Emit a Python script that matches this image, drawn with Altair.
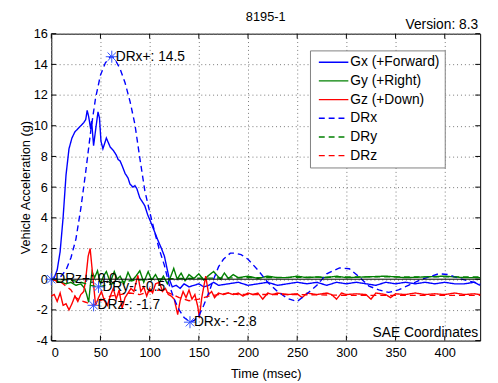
import altair as alt
import pandas as pd

# ---------------- data ----------------
title_text = "8195-1"
version_text = "Version: 8.3"
corner_text = "SAE Coordinates"

series_names = ["Gx (+Forward)", "Gy (+Right)", "Gz (+Down)", "DRx", "DRy", "DRz"]
series_colors = ["#0000ff", "#008000", "#ff0000", "#0000ff", "#008000", "#ff0000"]
series_dashes = [[1, 0], [1, 0], [1, 0], [6, 4], [6, 4], [6, 4]]

x_ticks = [0, 50, 100, 150, 200, 250, 300, 350, 400]
y_ticks = [-4, -2, 0, 2, 4, 6, 8, 10, 12, 14, 16]

gx_t = [0, 3, 6, 9, 12, 15, 18, 21, 24, 27,
        30, 33, 35, 36.5, 38, 40, 41, 43, 45, 47.5,
        49, 50.5, 52.5, 54, 56, 58, 60, 63, 66, 68,
        70, 72, 75, 78, 80, 83, 85, 87, 90, 93,
        95, 98, 100, 105, 108, 112, 115, 117, 120, 123,
        127, 131, 135, 140, 145, 150, 155, 160, 165, 170,
        180, 190, 200, 210, 220, 230, 240, 250, 260, 270,
        280, 290, 300, 310, 320, 330, 340, 350, 360, 370,
        380, 390, 400, 410, 420, 430, 436]
gx_g = [0, 0.1, 0.6, 1.8, 4.0, 6.8, 8.5, 9.2, 9.6, 9.8,
        10.0, 10.2, 10.4, 11.0, 10.6, 9.8, 10.3, 8.7, 9.7, 10.9,
        10.5, 9.0, 8.5, 8.8, 9.2, 8.9, 8.6, 8.4, 8.1, 7.8,
        7.7, 7.4, 6.9, 6.6, 6.2, 6.0, 6.1, 5.9, 5.3, 5.0,
        4.8, 4.2, 3.9, 3.1, 2.6, 2.0, 1.5, 0.9, 0.0, -0.5,
        -0.4, -0.6, -0.3, -0.5, -0.4, -0.3, -0.5, -0.4, -0.2, -0.4,
        -0.3, -0.2, -0.4, -0.3, -0.2, -0.4, -0.3, -0.2, -0.3, -0.2,
        -0.4, -0.2, -0.3, -0.2, -0.3, -0.4, -0.2, -0.3, -0.2, -0.3,
        -0.2, -0.3, -0.2, -0.3, -0.3, -0.2, -0.4]

gy_t = [0, 5, 10, 15, 20, 25, 30, 34, 36, 38,
        40, 41.5, 44, 47, 50, 53, 56, 60, 64, 67,
        70, 74, 78, 82, 86, 90, 94, 98.5, 102, 106,
        110, 114, 118, 121, 124.5, 128, 132, 136, 140, 145,
        150, 155, 160, 165, 172, 176, 180, 185, 190, 200,
        210, 220, 230, 240, 250, 260, 270, 280, 290, 300,
        320, 340, 360, 380, 400, 420, 436]
gy_g = [0, -0.1, -0.2, -0.3, -0.2, -0.4, -0.3, -0.6, -1.0, -1.5,
        -0.2, 0.5, 0.1, 0.55, -0.3, 0.2, 0.5, -0.2, 0.5, 0.0,
        0.2, -0.3, 0.45, -0.1, 0.2, 0.55, -0.2, 0.5, -0.05, 0.3,
        -0.2, 0.2, -0.3, 0.1, 0.7, 0.0, 0.4, -0.1, 0.3, 0.05,
        0.35, -0.05, 0.25, 0.5, 0.0, 0.4, 0.05, 0.3, 0.1, 0.2,
        0.05, 0.2, 0.1, 0.1, 0.2, 0.1, 0.15, 0.1, 0.2, 0.1,
        0.15, 0.2, 0.1, 0.15, 0.2, 0.1, 0.1]

gz_t = [0, 3, 6, 9, 12, 15, 18, 21, 24, 27,
        30, 33, 35, 37.5, 39.5, 41, 42.5, 45, 48, 51,
        54, 57, 60, 63, 66, 69, 72, 75, 78, 81,
        84, 88, 91, 94, 97, 100, 103, 106, 110, 113,
        116, 119, 122, 125, 128.5, 131, 134, 137, 140, 143,
        146, 149, 150.5, 153, 157, 160, 163, 166, 170, 175,
        180, 185, 190, 195, 200, 205, 210, 215, 220, 225,
        230, 240, 250, 255, 260, 270, 280, 285, 290, 295,
        300, 310, 320, 325, 330, 340, 345, 350, 360, 370,
        380, 390, 400, 410, 420, 430, 436]
gz_g = [-1.1, -1.0, -1.45, -0.9, -1.7, -1.6, -2.0, -1.6, -1.1, -1.45,
        -1.0, -0.8, 0.0, 1.5, 2.0, 1.0, 0.0, -1.7, -1.2, -0.8,
        -1.4, -1.7, -1.1, -0.6, -1.3, -0.7, -1.9, -1.2, -0.9, -0.6,
        -0.8, 0.25, -0.8, -0.5, -1.1, -0.6, -0.9, -0.3, -0.2, -0.8,
        -0.6, -1.0, -1.1, -1.3, -2.3, -1.4, -0.8, -1.2, -0.7, -1.3,
        -1.0, -1.8, -2.5, -1.2, 0.2, -1.0, -0.8, -1.2, -0.9, -1.0,
        -0.9, -1.0, -0.9, -1.1, -0.9, -1.0, -0.9, -1.3, -0.9, -1.0,
        -0.9, -1.0, -0.95, -1.2, -0.9, -1.0, -0.9, -1.0, -1.3, -0.9,
        -1.0, -0.95, -1.0, -1.3, -0.9, -1.0, -1.2, -0.95, -1.0, -0.9,
        -1.0, -0.95, -1.0, -0.9, -1.0, -0.95, -1.0]

drx_t = [0, 5, 10, 15, 20, 25, 30, 35, 40, 45,
         50, 55, 60, 62, 65, 70, 75, 80, 85, 90,
         95, 100, 105, 110, 115, 120, 125, 130, 135, 141,
         145, 150, 155, 160, 165, 170, 175, 182, 187, 193,
         200, 210, 220, 230, 240, 250, 260, 270, 280, 293,
         303, 313, 323, 333, 343, 353, 363, 377, 394, 404,
         417, 436]
drx_g = [0, 0, 0.2, 0.6, 1.4, 2.6, 4.6, 7.0, 9.6, 11.8,
         13.3, 14.1, 14.5, 14.5, 14.3, 13.7, 12.8, 11.6, 10.1, 7.9,
         5.8, 4.4, 3.1, 1.9, 0.9, -0.4, -1.3, -2.0, -2.5, -2.8,
         -2.7, -2.4, -1.7, -0.9, 0.0, 0.8, 1.3, 1.7, 1.7, 1.6,
         1.3, 0.6, -0.2, -0.8, -1.25, -1.45, -0.95, -0.4, 0.35, 0.74,
         0.68, 0.15, -0.45, -0.7, -0.86, -0.7, -0.4, 0.0, 0.36, 0.3,
         0.0, -0.3]

dry_t = [0, 20, 30, 40, 48, 55, 65, 80, 100, 130, 200, 300, 436]
dry_g = [0, -0.05, -0.2, -0.4, -0.5, -0.4, -0.25, -0.1, 0.0, 0.05, 0.1, 0.15, 0.15]

drz_t = [0, 10, 20, 25, 30, 35, 43, 50, 60, 70,
         80, 90, 100, 110, 120, 130, 140, 150, 160, 170,
         180, 190, 200, 250, 300, 350, 400, 436]
drz_g = [0, -0.2, -0.7, -1.2, -1.4, -1.5, -1.7, -1.4, -1.1, -1.0,
         -0.9, -1.0, -0.8, -0.7, -0.9, -1.2, -1.4, -1.3, -1.1, -1.0,
         -0.9, -1.0, -1.0, -1.0, -1.05, -1.05, -1.05, -1.05]

ann_labels = ["DRx+: 14.5", "DRx-: -2.8", "DRy-: -0.5", "DRz+: 0.0", "DRz-: -1.7"]
ann_t = [61.5, 141, 48, 0, 43]
ann_g = [14.5, -2.8, -0.5, 0.0, -1.7]

# ---------------- tables ----------------
frames = []
for name, ts, gs in zip(series_names,
                        [gx_t, gy_t, gz_t, drx_t, dry_t, drz_t],
                        [gx_g, gy_g, gz_g, drx_g, dry_g, drz_g]):
    assert len(ts) == len(gs), name
    frames.append(pd.DataFrame({"t": ts, "g": gs, "series": name}))
lines_df = pd.concat(frames, ignore_index=True)
ann_df = pd.DataFrame({"t": ann_t, "g": ann_g, "label": ann_labels})
xt_df = pd.DataFrame({"t": x_ticks})
yt_df = pd.DataFrame({"g": y_ticks})

FONT = "Liberation Sans"
W, H = 436, 312
xs = alt.Scale(domain=[0, 436], nice=False, zero=False)
ys = alt.Scale(domain=[-4, 16], nice=False, zero=False)

x_axis = alt.Axis(values=x_ticks, title="Time (msec)", labelPadding=6,
                  titlePadding=9, labelOverlap=False)
y_axis = alt.Axis(values=y_ticks, title="Vehicle Acceleration (g)",
                  labelPadding=4, titlePadding=1, labelOverlap=False,
                  labelExpr="replace(datum.label, '\u2212', '-')")


def X_():
    return alt.X("t:Q", scale=xs, axis=x_axis)


def Y_():
    return alt.Y("g:Q", scale=ys, axis=y_axis)


legend = alt.Legend(
    title=None, orient="none", legendX=263, legendY=17,
    symbolType="M-1,0L5,0", symbolSize=100, symbolStrokeWidth=1.4, symbolOffset=2,
    labelFontSize=14, labelFont=FONT, labelColor="black", labelLimit=300,
    fillColor="white", strokeColor="#808080", padding=5, rowPadding=5,
    labelOffset=20,
)

lines = alt.Chart(lines_df).mark_line(strokeWidth=1.4).encode(
    x=X_(), y=Y_(),
    color=alt.Color("series:N", scale=alt.Scale(domain=series_names, range=series_colors),
                    legend=legend),
    strokeDash=alt.StrokeDash("series:N",
                              scale=alt.Scale(domain=series_names, range=series_dashes),
                              legend=legend),
)

zero_line = alt.Chart(pd.DataFrame({"g": [0]})).mark_rule(color="black", strokeWidth=1).encode(
    y=Y_())

star = "M-1,0L1,0M0,-1L0,1M-0.7,-0.7L0.7,0.7M-0.7,0.7L0.7,-0.7"
stars = alt.Chart(ann_df).mark_point(shape=star, size=150, filled=False, strokeWidth=1,
                                     color="#3050ff", opacity=1).encode(x=X_(), y=Y_())
labels = alt.Chart(ann_df).mark_text(align="left", baseline="middle", dx=4, fontSize=14,
                                     font=FONT, color="black").encode(
    x=X_(), y=Y_(), text="label:N")

tick_x_bottom = alt.Chart(xt_df).mark_rule(color="black").encode(
    x=X_(), y=alt.value(H), y2=alt.value(H - 5))
tick_x_top = alt.Chart(xt_df).mark_rule(color="black").encode(
    x=X_(), y=alt.value(0), y2=alt.value(5))
tick_y_left = alt.Chart(yt_df).mark_rule(color="black").encode(
    y=Y_(), x=alt.value(0), x2=alt.value(5))
tick_y_right = alt.Chart(yt_df).mark_rule(color="black").encode(
    y=Y_(), x=alt.value(W), x2=alt.value(W - 5))

corner = alt.Chart(pd.DataFrame({"s": [corner_text]})).mark_text(
    align="right", baseline="alphabetic", fontSize=14, font=FONT, color="black").encode(
    x=alt.value(W - 2), y=alt.value(H - 4), text="s:N")
version = alt.Chart(pd.DataFrame({"s": [version_text]})).mark_text(
    align="right", baseline="middle", fontSize=14, font=FONT, color="black").encode(
    x=alt.value(W - 2), y=alt.value(-9), text="s:N")
title = alt.Chart(pd.DataFrame({"s": [title_text]})).mark_text(
    align="center", baseline="middle", fontSize=13, font=FONT, color="black").encode(
    x=alt.value(W / 2), y=alt.value(-17), text="s:N")

chart = alt.layer(
    lines, zero_line, stars, labels,
    tick_x_bottom, tick_x_top, tick_y_left, tick_y_right, corner, version, title,
).properties(
    width=W, height=H,
    autosize=alt.AutoSizeParams(type="none"),
    padding={"left": 44, "top": 23, "right": 10, "bottom": 40},
).configure_view(
    stroke="black", strokeWidth=1,
).configure_axis(
    grid=True, gridColor="#777777", gridDash=[1, 3], gridWidth=1,
    ticks=False, domain=False,
    labelFont=FONT, labelFontSize=13, labelColor="black",
    titleFont=FONT, titleFontSize=13, titleFontWeight="normal", titleColor="black",
)

chart.save("out.html", embed_options={"renderer": "svg", "actions": False})
